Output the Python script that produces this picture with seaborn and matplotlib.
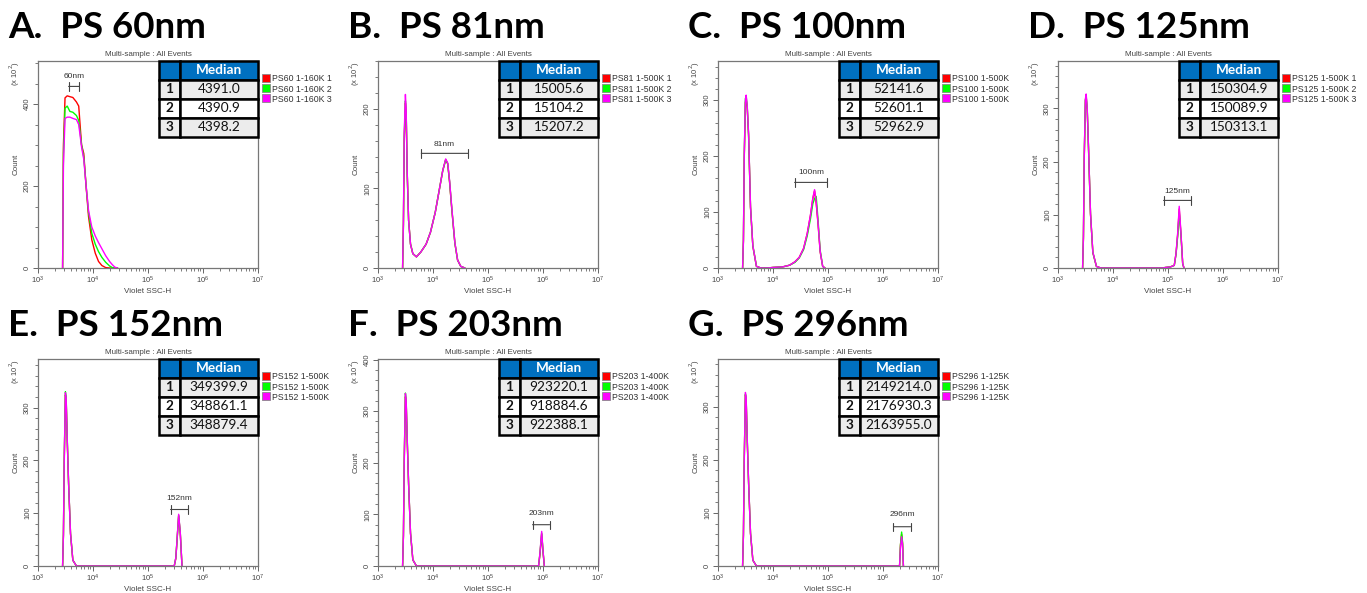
import matplotlib
matplotlib.use("Agg")
import numpy as np
import pandas as pd
import matplotlib.pyplot as plt
import seaborn as sns
from matplotlib.ticker import MultipleLocator, AutoMinorLocator, LogLocator, NullFormatter
from matplotlib.lines import Line2D

# ---------------- data ----------------
panel_titles = ["A.  PS 60nm", "B.  PS 81nm", "C.  PS 100nm", "D.  PS 125nm",
                "E.  PS 152nm", "F.  PS 203nm", "G.  PS 296nm"]

A_ssc = [2800, 2900, 3100, 3400, 3800, 4300, 5000, 5500, 6200, 6800, 7500, 8300, 9500, 11000, 12600, 14500, 17000, 20000, 22500, 25000, 28000]
A_count1 = [0, 300, 415, 420, 418, 416, 405, 395, 300, 279, 198, 125, 69, 36, 16, 6, 1, 0, 0, 0, 0]
A_count2 = [0, 280, 390, 395, 382, 380, 372, 360, 300, 270, 200, 135, 85, 58, 40, 26, 14, 5, 1, 0, 0]
A_count3 = [0, 250, 365, 368, 368, 365, 362, 350, 295, 265, 200, 140, 100, 78, 62, 47, 30, 16, 8, 2, 0]

B_ssc = [2800, 2900, 3000, 3150, 3250, 3400, 3600, 3900, 4300, 5000, 6000, 7500, 9000, 11000, 13000, 15000, 17000, 18500, 20000, 22000, 25000, 28000, 32000, 38000]
B_count1 = [0, 55, 160, 207, 195, 118, 60, 30, 18, 14, 20, 30, 45, 70, 98, 122, 136, 131, 108, 73, 31, 10, 2, 0]
B_count2 = [0, 55, 165, 210, 197, 119, 60, 30, 18, 14, 20, 30, 45, 70, 98, 122, 136, 131, 109, 74, 31, 10, 2, 0]
B_count3 = [0, 60, 170, 218, 200, 120, 60, 30, 18, 14, 20, 30, 45, 70, 98, 122, 137, 132, 110, 75, 32, 10, 2, 0]

C_ssc = [2800, 2900, 3000, 3150, 3250, 3400, 3600, 3900, 4300, 5000, 6000, 8000, 10000, 15000, 20000, 25000, 30000, 36000, 42000, 48000, 53000, 57000, 61000, 66000, 72000, 80000, 88000]
C_count1 = [0, 48, 195, 296, 302, 286, 236, 108, 39, 3, 0, 0, 1, 2, 5, 11, 19, 35, 62, 94, 124, 138, 116, 78, 29, 3, 0]
C_count2 = [0, 50, 198, 303, 307, 288, 238, 109, 40, 3, 0, 0, 1, 2, 5, 10, 18, 33, 58, 88, 115, 124, 128, 85, 32, 3, 0]
C_count3 = [0, 50, 200, 300, 309, 290, 240, 110, 40, 3, 0, 0, 1, 2, 5, 11, 19, 35, 62, 95, 125, 140, 118, 80, 30, 3, 0]

D_ssc = [2800, 2900, 3000, 3150, 3250, 3400, 3600, 3900, 4300, 5000, 6000, 80000, 90000, 110000, 130000, 140000, 150000, 160000, 172000, 185000, 195000]
D_count1 = [0, 55, 205, 315, 322, 296, 220, 101, 29, 3, 0, 0, 1, 2, 5, 27, 63, 111, 63, 8, 0]
D_count2 = [0, 58, 208, 316, 324, 298, 221, 102, 29, 3, 0, 0, 1, 2, 5, 26, 60, 104, 62, 8, 0]
D_count3 = [0, 60, 210, 318, 327, 300, 222, 103, 30, 3, 0, 0, 1, 2, 5, 28, 66, 116, 66, 9, 0]

E_ssc = [2800, 2900, 3000, 3150, 3250, 3400, 3600, 3900, 4300, 5000, 300000, 320000, 337000, 361000, 387000, 415000]
E_count1 = [0, 58, 196, 324, 315, 238, 155, 61, 11, 0, 0, 14, 47, 95, 60, 0]
E_count2 = [0, 60, 202, 330, 320, 241, 157, 62, 11, 0, 0, 15, 48, 96, 61, 0]
E_count3 = [0, 60, 200, 328, 318, 240, 157, 62, 11, 0, 0, 15, 49, 98, 62, 0]

F_ssc = [2800, 2900, 3000, 3150, 3250, 3400, 3600, 3900, 4300, 5000, 830000, 880000, 946000, 1000000, 1057000]
F_count1 = [0, 58, 200, 328, 318, 242, 158, 63, 12, 0, 0, 22, 62, 28, 0]
F_count2 = [0, 60, 205, 335, 322, 245, 160, 64, 12, 0, 0, 24, 64, 29, 0]
F_count3 = [0, 60, 205, 334, 322, 245, 160, 64, 12, 0, 0, 25, 67, 30, 0]

G_ssc = [2800, 2900, 3000, 3150, 3250, 3400, 3600, 3900, 4300, 5000, 2000000, 2080000, 2180000, 2270000, 2350000]
G_count1 = [0, 58, 198, 322, 314, 237, 156, 61, 11, 0, 0, 40, 60, 42, 0]
G_count2 = [0, 58, 198, 324, 316, 238, 157, 62, 11, 0, 0, 40, 64, 44, 0]
G_count3 = [0, 60, 200, 327, 318, 240, 158, 62, 11, 0, 0, 35, 55, 38, 0]

medians = [
    ["4391.0", "4390.9", "4398.2"],
    ["15005.6", "15104.2", "15207.2"],
    ["52141.6", "52601.1", "52962.9"],
    ["150304.9", "150089.9", "150313.1"],
    ["349399.9", "348861.1", "348879.4"],
    ["923220.1", "918884.6", "922388.1"],
    ["2149214.0", "2176930.3", "2163955.0"],
]
legend_labels = [
    ["PS60 1-160K 1", "PS60 1-160K 2", "PS60 1-160K 3"],
    ["PS81 1-500K 1", "PS81 1-500K 2", "PS81 1-500K 3"],
    ["PS100 1-500K", "PS100 1-500K", "PS100 1-500K"],
    ["PS125 1-500K 1", "PS125 1-500K 2", "PS125 1-500K 3"],
    ["PS152 1-500K", "PS152 1-500K", "PS152 1-500K"],
    ["PS203 1-400K", "PS203 1-400K", "PS203 1-400K"],
    ["PS296 1-125K", "PS296 1-125K", "PS296 1-125K"],
]
size_labels = ["60nm", "81nm", "100nm", "125nm", "152nm", "203nm", "296nm"]
size_lo = [3600, 6130, 24700, 83000, 257000, 645000, 1550000]
size_hi = [5650, 43300, 97000, 265000, 534000, 1320000, 3170000]
size_y = [443, 144, 153, 127, 107, 80, 74]
size_text_y = [468, 155, 170, 143, 128, 102, 97]
y_max = [505, 260, 370, 389, 392, 401, 390]
y_step = [200, 100, 100, 100, 100, 100, 100]

panels = [
    (A_ssc, A_count1, A_count2, A_count3),
    (B_ssc, B_count1, B_count2, B_count3),
    (C_ssc, C_count1, C_count2, C_count3),
    (D_ssc, D_count1, D_count2, D_count3),
    (E_ssc, E_count1, E_count2, E_count3),
    (F_ssc, F_count1, F_count2, F_count3),
    (G_ssc, G_count1, G_count2, G_count3),
]
series_colors = ["#ff0000", "#00ff00", "#ff00ff"]

# ---------------- style ----------------
sns.set_theme(style="ticks")
plt.rcParams["font.family"] = ["Liberation Sans", "DejaVu Sans"]

W, H = 1367, 593
fig = plt.figure(figsize=(W / 100, H / 100), dpi=100)
fig.patch.set_facecolor("white")

col_left = [38, 378, 718, 1058]
row_top = [61, 359]
ax_w, ax_h = 220, 207
title_base = [38, 336]
title_x = [8, 348, 688, 1028]

for i, (ssc, c1, c2, c3) in enumerate(panels):
    r, c = divmod(i, 4)
    left = col_left[c]
    top = row_top[r]
    ax = fig.add_axes([left / W, 1 - (top + ax_h) / H, ax_w / W, ax_h / H])

    df = pd.DataFrame({
        "ssc": list(ssc) * 3,
        "count": list(c1) + list(c2) + list(c3),
        "sample": ["s1"] * len(ssc) + ["s2"] * len(ssc) + ["s3"] * len(ssc),
    })
    sns.lineplot(data=df, x="ssc", y="count", hue="sample", palette=series_colors,
                 ax=ax, linewidth=1.0, legend=False, estimator=None, sort=True)
    ax.set_xscale("log")
    ax.set_xlim(1e3, 1e7)
    ax.set_ylim(0, y_max[i])

    ax.xaxis.set_major_locator(LogLocator(base=10, numticks=10))
    ax.xaxis.set_minor_locator(LogLocator(base=10, subs=np.arange(2, 10), numticks=50))
    ax.xaxis.set_minor_formatter(NullFormatter())
    ax.yaxis.set_major_locator(MultipleLocator(y_step[i]))
    ax.yaxis.set_minor_locator(AutoMinorLocator(4 if y_step[i] == 200 else 5))

    ax.tick_params(which="both", direction="out", color="#666666", labelsize=5.5,
                   labelcolor="#444444", pad=1.5)
    ax.tick_params(which="major", length=3.5, width=0.7)
    ax.tick_params(which="minor", length=2, width=0.6)
    for lab in ax.get_yticklabels():
        lab.set_rotation(90)
        lab.set_va("center")
        lab.set_ha("right")
    for sp in ax.spines.values():
        sp.set_color("#777777")
        sp.set_linewidth(0.9)

    ax.set_xlabel("Violet SSC-H", fontsize=5.8, color="#444444", labelpad=1)
    ax.set_ylabel("Count", fontsize=5.8, color="#444444", labelpad=3)
    ax.text(-0.105, 1.0, r"(x 10$^2$)", transform=ax.transAxes, rotation=90,
            ha="center", va="top", fontsize=5.5, color="#444444")
    ax.set_title("Multi-sample : All Events", fontsize=5.8, color="#444444", pad=3.5)

    # size bar annotation
    ax.annotate("", xy=(size_lo[i], size_y[i]), xytext=(size_hi[i], size_y[i]),
                arrowprops=dict(arrowstyle="|-|, widthA=0.25, widthB=0.25",
                                color="#444444", lw=0.8, shrinkA=0, shrinkB=0))
    ax.text(np.sqrt(size_lo[i] * size_hi[i]), size_text_y[i], size_labels[i],
            ha="center", va="center", fontsize=6, color="#333333")

    # median table
    cell_text = [["", "Median"]] + [[str(k + 1), v] for k, v in enumerate(medians[i])]
    tb = ax.table(cellText=cell_text, bbox=[0.55, 0.633, 0.45, 0.367],
                  colWidths=[0.21, 0.79], cellLoc="center", zorder=10)
    tb.auto_set_font_size(False)
    for (rr, cc), cell in tb.get_celld().items():
        cell.set_edgecolor("black")
        cell.set_linewidth(1.8)
        t = cell.get_text()
        t.set_fontfamily(["Lato", "DejaVu Sans"])
        t.set_fontsize(9.8)
        if rr == 0:
            cell.set_facecolor("#0070c0")
            t.set_color("white")
            t.set_fontweight("bold")
        else:
            cell.set_facecolor("#ececec" if rr != 2 else "#ffffff")
            t.set_color("#111111")
            if cc == 0:
                t.set_fontweight("bold")

    # legend
    handles = [Line2D([], [], marker="s", linestyle="", markersize=6,
                      markerfacecolor=col, markeredgecolor="#888888", markeredgewidth=0.6)
               for col in series_colors]
    leg = ax.legend(handles, legend_labels[i], loc="upper left", bbox_to_anchor=(1.02, 0.935),
                    frameon=False, fontsize=6.3, handlelength=0.8, handletextpad=0.3,
                    labelspacing=0.12, borderaxespad=0, borderpad=0)
    for t in leg.get_texts():
        t.set_color("#333333")

    # panel title
    fig.text(title_x[c] / W, 1 - title_base[r] / H, panel_titles[i],
             fontsize=26.5, fontweight="bold", family=["Lato", "DejaVu Sans"],
             ha="left", va="baseline", color="black")

fig.savefig("out.png", dpi=100, facecolor="white")
